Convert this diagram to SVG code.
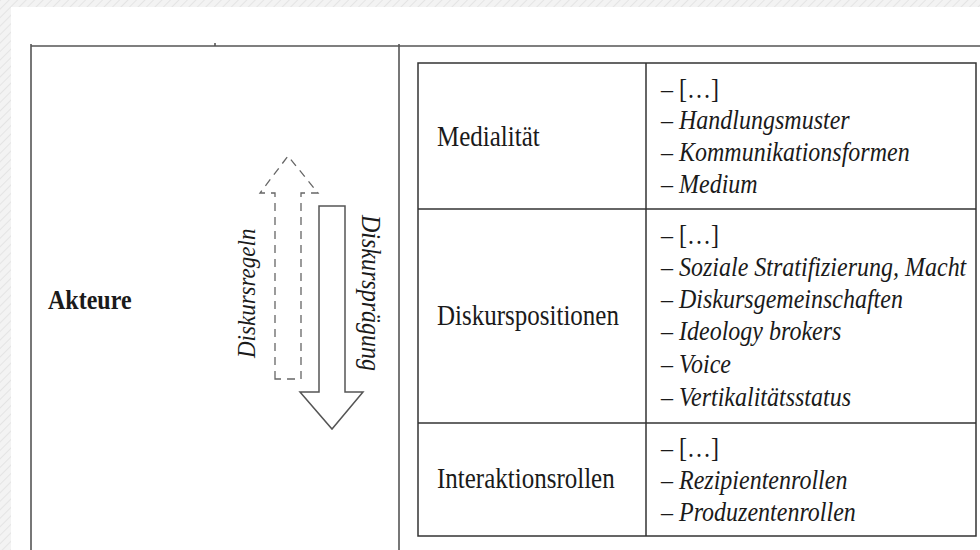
<svg xmlns="http://www.w3.org/2000/svg" width="980" height="550" viewBox="0 0 980 550">
<defs>
<pattern id="hatch" width="6" height="6" patternUnits="userSpaceOnUse" patternTransform="rotate(45)">
<rect width="6" height="6" fill="#f3f3f3"/>
<line x1="0" y1="0" x2="0" y2="6" stroke="#e4e4e4" stroke-width="2"/>
</pattern>
<style>
.frame{stroke:#555;stroke-width:1.6;fill:none}
.tbl{stroke:#333;stroke-width:1.5;fill:none}
.lbl{font-family:"Liberation Serif","Times New Roman",serif;font-size:25px;fill:#1a1a1a}
.item{font-family:"Liberation Serif","Times New Roman",serif;font-size:24px;fill:#1a1a1a}
.it{font-style:italic}
.bold{font-weight:bold}
.rot{font-family:"Liberation Serif","Times New Roman",serif;font-style:italic;fill:#1a1a1a}
</style>
</defs>
<rect width="980" height="550" fill="url(#hatch)"/>
<rect x="11" y="7" width="969" height="543" fill="#ffffff"/>

<g id="frame">
<line class="frame" x1="31" y1="46" x2="980" y2="46"/>
<line class="frame" x1="31" y1="44" x2="31" y2="550"/>
<line class="frame" x1="399" y1="44" x2="399" y2="550"/>
<line class="frame" x1="215" y1="43" x2="215" y2="46"/>
</g>

<g id="table">
<rect class="tbl" x="418" y="63" width="558" height="473"/>
<line class="tbl" x1="646" y1="63" x2="646" y2="536"/>
<line class="tbl" x1="418" y1="209" x2="976" y2="209"/>
<line class="tbl" x1="418" y1="423" x2="976" y2="423"/>
</g>

<g id="akteure">
<text class="lbl bold" transform="translate(48,309) scale(1,1.15)" style="font-size:24px">Akteure</text>
</g>

<g id="medialitaet">
<text class="lbl" transform="translate(437,146) scale(1,1.15)">Medialität</text>
<text class="item" transform="translate(661,98) scale(1,1.15)">– […]</text>
<text class="item" transform="translate(661,129) scale(1,1.15)">– <tspan class="it">Handlungsmuster</tspan></text>
<text class="item" transform="translate(661,161) scale(1,1.15)">– <tspan class="it">Kommunikationsformen</tspan></text>
<text class="item" transform="translate(661,193) scale(1,1.15)">– <tspan class="it">Medium</tspan></text>
</g>

<g id="diskurspositionen">
<text class="lbl" transform="translate(437,325) scale(1,1.15)">Diskurspositionen</text>
<text class="item" transform="translate(661,244) scale(1,1.15)">– […]</text>
<text class="item" transform="translate(661,276) scale(1,1.15)">– <tspan class="it">Soziale Stratifizierung, Macht</tspan></text>
<text class="item" transform="translate(661,308) scale(1,1.15)">– <tspan class="it">Diskursgemeinschaften</tspan></text>
<text class="item" transform="translate(661,340) scale(1,1.15)">– <tspan class="it">Ideology brokers</tspan></text>
<text class="item" transform="translate(661,373) scale(1,1.15)">– <tspan class="it">Voice</tspan></text>
<text class="item" transform="translate(661,406) scale(1,1.15)">– <tspan class="it">Vertikalitätsstatus</tspan></text>
</g>

<g id="interaktionsrollen">
<text class="lbl" transform="translate(437,488) scale(1,1.15)">Interaktionsrollen</text>
<text class="item" transform="translate(661,457) scale(1,1.15)">– […]</text>
<text class="item" transform="translate(661,489) scale(1,1.15)">– <tspan class="it">Rezipientenrollen</tspan></text>
<text class="item" transform="translate(661,521) scale(1,1.15)">– <tspan class="it">Produzentenrollen</tspan></text>
</g>

<g id="connectors">
<polygon points="275,379 275,193 260,193 288,156 318,193 301,193 301,379" fill="none" stroke="#666" stroke-width="1.3" stroke-dasharray="8,6"/>
<polygon points="319,206 345,206 345,392 363,392 332,429 300,392 319,392" fill="#fff" stroke="#555" stroke-width="1.5"/>
<text class="rot" transform="translate(255,358) rotate(-90) scale(1,1.12)" style="font-size:23px">Diskursregeln</text>
<text class="rot" transform="translate(362,215) rotate(90) scale(1,1.12)" style="font-size:24px">Diskursprägung</text>
</g>
</svg>
